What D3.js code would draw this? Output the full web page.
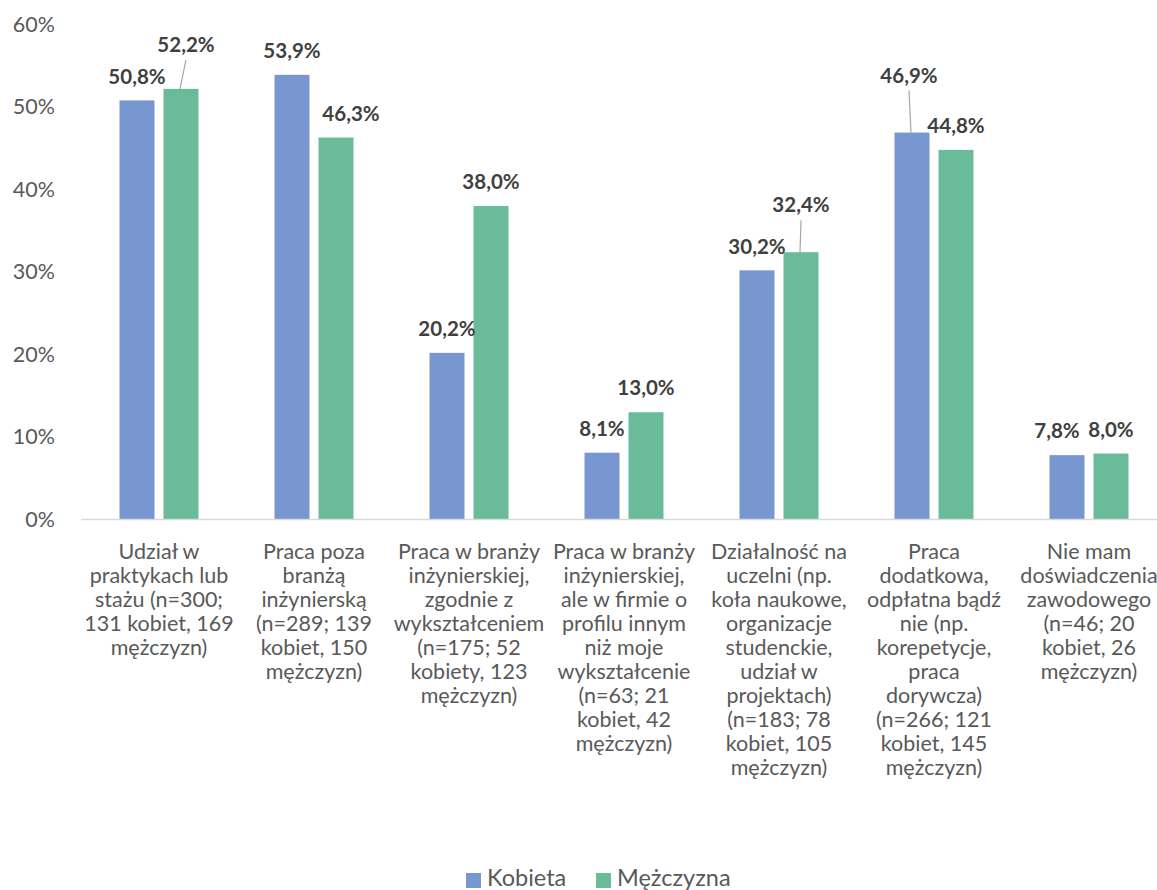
<!DOCTYPE html>
<html>
<head>
<meta charset="utf-8">
<script src="https://cdn.jsdelivr.net/npm/d3@7"></script>
<style>
  html, body { margin: 0; padding: 0; background: #fff; }
  svg { display: block; font-family: Lato, "Open Sans", sans-serif; }
</style>
</head>
<body>
<svg id="chart" width="1157" height="890"></svg>
<script>
// Categories (one array of wrapped lines per category)
const categories = [
  ["Udział w", "praktykach lub", "stażu (n=300;", "131 kobiet, 169", "mężczyzn)"],
  ["Praca poza", "branżą", "inżynierską", "(n=289; 139", "kobiet, 150", "mężczyzn)"],
  ["Praca w branży", "inżynierskiej,", "zgodnie z", "wykształceniem", "(n=175; 52", "kobiety, 123", "mężczyzn)"],
  ["Praca w branży", "inżynierskiej,", "ale w firmie o", "profilu innym", "niż moje", "wykształcenie", "(n=63; 21", "kobiet, 42", "mężczyzn)"],
  ["Działalność na", "uczelni (np.", "koła naukowe,", "organizacje", "studenckie,", "udział w", "projektach)", "(n=183; 78", "kobiet, 105", "mężczyzn)"],
  ["Praca", "dodatkowa,", "odpłatna bądź", "nie (np.", "korepetycje,", "praca", "dorywcza)", "(n=266; 121", "kobiet, 145", "mężczyzn)"],
  ["Nie mam", "doświadczenia", "zawodowego", "(n=46; 20", "kobiet, 26", "mężczyzn)"]
];
const seriesNames = ["Kobieta", "Mężczyzna"];
const kobieta   = [50.8, 53.9, 20.2, 8.1, 30.2, 46.9, 7.8];
const mezczyzna = [52.2, 46.3, 38.0, 13.0, 32.4, 44.8, 8.0];
const yTicks = [0, 10, 20, 30, 40, 50, 60];

const colors = ["#7897d0", "#6abb9a"];

// Label nudges for crowded data labels: [series, category, dx, dy, leader]
const labelNudges = [
  [1, 0, 5, -20, true],
  [1, 1, 15, 0, false],
  [1, 4, 0, -23, true],
  [0, 5, -3, -33, true],
  [0, 6, -10, 0, false]
];

const svg = d3.select("#chart");
const plot = { left: 81.5, top: 24.5, bottom: 519.5, step: 155 };

const x = d3.scaleBand()
  .domain(d3.range(categories.length))
  .range([plot.left, plot.left + plot.step * categories.length])
  .paddingInner(0).paddingOuter(0);

const y = d3.scaleLinear().domain([0, 60]).range([plot.bottom, plot.top]);

const barW = 35, gap = 9;
const barX = (s, i) => x(i) + x.bandwidth() / 2 + (s === 0 ? -(gap / 2 + barW) : gap / 2);

// Y axis tick labels (no axis line, no gridlines)
const yAxis = d3.axisLeft(y).tickValues(yTicks).tickSize(0).tickPadding(0)
  .tickFormat(d => d + "%");
svg.append("g")
  .attr("transform", "translate(55,0)")
  .call(yAxis)
  .call(g => g.select(".domain").remove())
  .call(g => g.selectAll("text")
    .attr("font-family", "Lato, sans-serif")
    .attr("font-size", 21.5)
    .attr("fill", "#595959"));

// Bars
const series = [kobieta, mezczyzna];
series.forEach((vals, s) => {
  svg.append("g").selectAll("rect")
    .data(vals)
    .join("rect")
    .attr("x", (d, i) => barX(s, i))
    .attr("y", d => y(d))
    .attr("width", barW)
    .attr("height", d => y(0) - y(d))
    .attr("fill", colors[s]);
});

// Baseline
svg.append("line")
  .attr("x1", plot.left).attr("x2", 1157)
  .attr("y1", y(0)).attr("y2", y(0))
  .attr("stroke", "#d9d9d9").attr("stroke-width", 1.5);

// Data labels
const fmt = v => v.toFixed(1).replace(".", ",") + "%";
const labels = svg.append("g");
series.forEach((vals, s) => {
  vals.forEach((v, i) => {
    const cx = barX(s, i) + barW / 2;
    const top = y(v);
    let lx = cx, ly = top - 24, leader = false;
    const n = labelNudges.find(a => a[0] === s && a[1] === i);
    if (n) { lx += n[2]; ly += n[3]; leader = n[4]; }
    if (leader) {
      labels.append("line")
        .attr("x1", lx).attr("y1", ly + 15)
        .attr("x2", cx - 1).attr("y2", top)
        .attr("stroke", "#a6a6a6").attr("stroke-width", 1.2);
    }
    labels.append("text")
      .attr("x", lx).attr("y", ly)
      .attr("dy", "0.35em")
      .attr("text-anchor", "middle")
      .attr("font-size", 20.5)
      .attr("font-weight", "bold")
      .attr("fill", "#404040")
      .text(fmt(v));
  });
});

// Category labels
const catG = svg.append("g");
categories.forEach((lines, i) => {
  const t = catG.append("text")
    .attr("text-anchor", "middle")
    .attr("font-size", 21.5)
    .attr("fill", "#595959");
  lines.forEach((ln, k) => {
    t.append("tspan")
      .attr("x", x(i) + x.bandwidth() / 2)
      .attr("y", 551 + k * 24)
      .attr("dy", "0.35em")
      .text(ln);
  });
});

// Legend
const legend = svg.append("g");
const legendItems = [{ x: 466, tx: 487 }, { x: 596, tx: 617 }];
seriesNames.forEach((name, s) => {
  legend.append("rect")
    .attr("x", legendItems[s].x).attr("y", 873)
    .attr("width", 15).attr("height", 15)
    .attr("fill", colors[s]);
  legend.append("text")
    .attr("x", legendItems[s].tx).attr("y", 886)
    .attr("font-size", 23.5)
    .attr("fill", "#595959")
    .text(name);
});
</script>
</body>
</html>
